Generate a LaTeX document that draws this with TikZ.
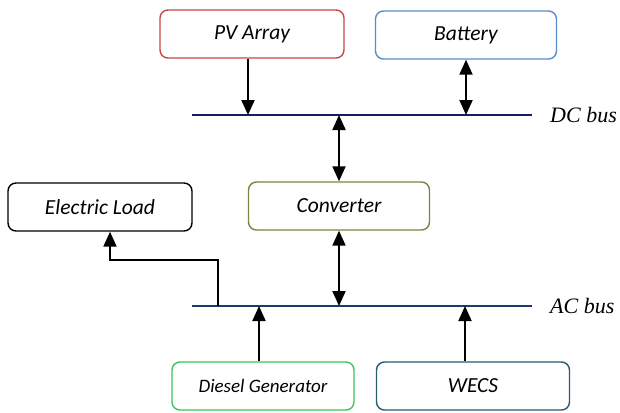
\documentclass[tikz,border=0pt]{standalone}
\usepackage{fontspec}
\setmainfont{Carlito}
\newfontfamily\busfont{Liberation Serif}
\usetikzlibrary{arrows.meta}
\definecolor{pvred}{RGB}{200, 70, 70}
\definecolor{batblue}{RGB}{90, 140, 205}
\definecolor{convgreen}{RGB}{115, 135, 65}
\definecolor{dieselgreen}{RGB}{60, 195, 95}
\definecolor{wecsteal}{RGB}{40, 90, 110}
\definecolor{dcnavy}{RGB}{20, 30, 100}
\definecolor{acnavy}{RGB}{30, 60, 105}

\begin{document}
\begin{tikzpicture}[x=1pt, y=-1pt,
        unit/.style={draw, rounded corners=8pt, line width=1.4pt, minimum width=184pt,
                     minimum height=48pt, font=\itshape\fontsize{21.5}{24}\selectfont},
        bus/.style={line width=2.4pt},
        arr/.style={line width=2pt, -{Triangle[width=13pt,length=15pt]}},
        biarr/.style={line width=2pt, {Triangle[width=13pt,length=15pt]}-{Triangle[width=13pt,length=15pt]}},
        buslabel/.style={anchor=west, inner xsep=0pt, font=\busfont\itshape\fontsize{22}{26}\selectfont}]
            % Frame to fix the page size
            \useasboundingbox (0, 0) rectangle (620, 412);
            % Sources and storage
            \node[unit, pvred]                            (pv)     at (252, 34)  {\textcolor{black}{PV Array}};
            \node[unit, batblue, minimum width=181pt]     (bat)    at (466, 35)  {\textcolor{black}{Battery}};
            \node[unit, convgreen, minimum width=181pt]   (conv)   at (339, 206) {\textcolor{black}{Converter}};
            \node[unit, black]                            (load)   at (100, 207) {Electric Load};
            \node[unit, dieselgreen, minimum width=182pt] (diesel) at (263, 386) {\textcolor{black}{\fontsize{19}{22}\selectfont Diesel Generator}};
            \node[unit, wecsteal, minimum width=193pt]    (wecs)   at (473, 386) {\textcolor{black}{WECS}};
            % DC bus
            \coordinate (dcl) at (192, 115);
            \coordinate (dcr) at (532, 115);
            \draw[bus, dcnavy] (dcl) -- (dcr) node[buslabel, black] at ([xshift=17pt]dcr) {DC bus};
            % AC bus
            \coordinate (acl) at (192, 306);
            \coordinate (acr) at (532, 306);
            \coordinate (tap) at (218, 306);
            \draw[bus, acnavy] (acl) -- (acr) node[buslabel, black] at ([xshift=17pt]acr) {AC bus};
            % Links to the DC bus
            \draw[arr]   ([xshift=-4pt]pv.south) -- ([xshift=-4pt]pv.south |- dcl);
            \draw[biarr] (bat.south) -- (bat.south |- dcl);
            \draw[biarr] (conv.north) -- (conv.north |- dcl);
            % Links to the AC bus
            \draw[biarr] (conv.south) -- (conv.south |- acl);
            \draw[arr]   ([xshift=-4pt]diesel.north) -- ([xshift=-4pt]diesel.north |- acl);
            \draw[arr]   ([xshift=-8pt]wecs.north) -- ([xshift=-8pt]wecs.north |- acl);
            \draw[arr]   (tap) |- (110, 260) -- ([xshift=10pt]load.south);
\end{tikzpicture}
\end{document}
